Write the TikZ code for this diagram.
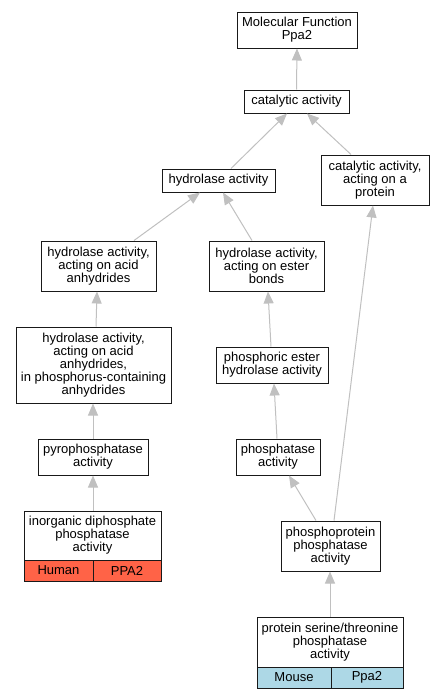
\documentclass[tikz,border=0pt]{standalone}
\usepackage{fontspec}
\setmainfont{Liberation Sans}
\usetikzlibrary{arrows.meta}
\definecolor{edgegray}{HTML}{C0C0C0}
\definecolor{tomatoc}{HTML}{FF6347}
\definecolor{lightbluec}{HTML}{ADD8E6}
\tikzset{
  box/.style={draw=black!90, line width=1pt, rectangle, inner sep=0pt, align=center,
    font=\fontsize{13}{13}\selectfont, fill=white},
  cell/.style={box},
  edge/.style={draw=edgegray, line width=1pt, -{Triangle[length=12pt,width=10pt]}, shorten >=0pt}
}
\begin{document}
\begin{tikzpicture}[x=1pt,y=-1pt]
\useasboundingbox (0,0) rectangle (444,699);
% nodes
\node[box, minimum width=120pt, minimum height=36pt] (mf) at (297,30) {Molecular Function\\Ppa2};
\node[box, minimum width=105pt, minimum height=23pt] (cat) at (296.5,101.5) {catalytic activity};
\node[box, minimum width=113pt, minimum height=23pt] (hyd) at (218.5,180.5) {hydrolase activity};
\node[box, minimum width=108pt, minimum height=50pt] (catprot) at (375,180) {catalytic activity,\\acting on a\\protein};
\node[box, minimum width=115pt, minimum height=50pt] (acid) at (98.5,266) {hydrolase activity,\\acting on acid\\anhydrides};
\node[box, minimum width=115pt, minimum height=50pt] (ester) at (266.5,266) {hydrolase activity,\\acting on ester\\bonds};
\node[box, minimum width=155pt, minimum height=76pt] (phosc) at (93.5,365) {hydrolase activity,\\acting on acid\\anhydrides,\\in phosphorus-containing\\anhydrides};
\node[box, minimum width=112pt, minimum height=36pt] (pester) at (272,365) {phosphoric ester\\hydrolase activity};
\node[box, minimum width=110pt, minimum height=36pt] (pyro) at (93,457) {pyrophosphatase\\activity};
\node[box, minimum width=84pt, minimum height=36pt] (phtase) at (278,457) {phosphatase\\activity};
\node[box, minimum width=137pt, minimum height=49pt] (inorg) at (92.5,535.5) {inorganic diphosphate\\phosphatase\\activity};
\node[cell, fill=tomatoc, minimum width=69pt, minimum height=21pt] (human) at (58.5,570.5) {Human};
\node[cell, fill=tomatoc, minimum width=68pt, minimum height=21pt] (ppaA) at (127,570.5) {PPA2};
\node[box, minimum width=99pt, minimum height=50pt] (pprot) at (330.5,546) {phosphoprotein\\phosphatase\\activity};
\node[box, minimum width=146pt, minimum height=50pt] (serthr) at (330,642) {protein serine/threonine\\phosphatase\\activity};
\node[cell, fill=lightbluec, minimum width=74pt, minimum height=21pt] (mouse) at (294,677.5) {Mouse};
\node[cell, fill=lightbluec, minimum width=72pt, minimum height=21pt] (ppaB) at (367,677.5) {Ppa2};
% edges
\draw[edge] (cat.north) -- (mf.south);
\draw[edge] ([xshift=12.5pt]hyd.north) -- ([xshift=-9.5pt]cat.south);
\draw[edge] ([xshift=-24pt]catprot.north) -- ([xshift=10.5pt]cat.south);
\draw[edge] ([xshift=35.5pt]acid.north) -- ([xshift=-18.5pt]hyd.south);
\draw[edge] ([xshift=-14.5pt]ester.north) -- ([xshift=4.5pt]hyd.south);
\draw[edge] ([xshift=2.5pt]phosc.north) -- ([xshift=-1.5pt]acid.south);
\draw[edge] ([xshift=-1pt]pester.north) -- ([xshift=1.5pt]ester.south);
\draw[edge] (pyro.north) -- ([xshift=-0.5pt]phosc.south);
\draw[edge] ([xshift=-1pt]phtase.north) -- ([xshift=2pt]pester.south);
\draw[edge] ([xshift=0.5pt]inorg.north) -- (pyro.south);
\draw[edge] ([xshift=-14.5pt]pprot.north) -- ([xshift=11pt]phtase.south);
\draw[edge] ([xshift=3.5pt]pprot.north) -- ([xshift=-2pt]catprot.south);
\draw[edge] (serthr.north) -- ([xshift=-0.5pt]pprot.south);
\end{tikzpicture}
\end{document}
